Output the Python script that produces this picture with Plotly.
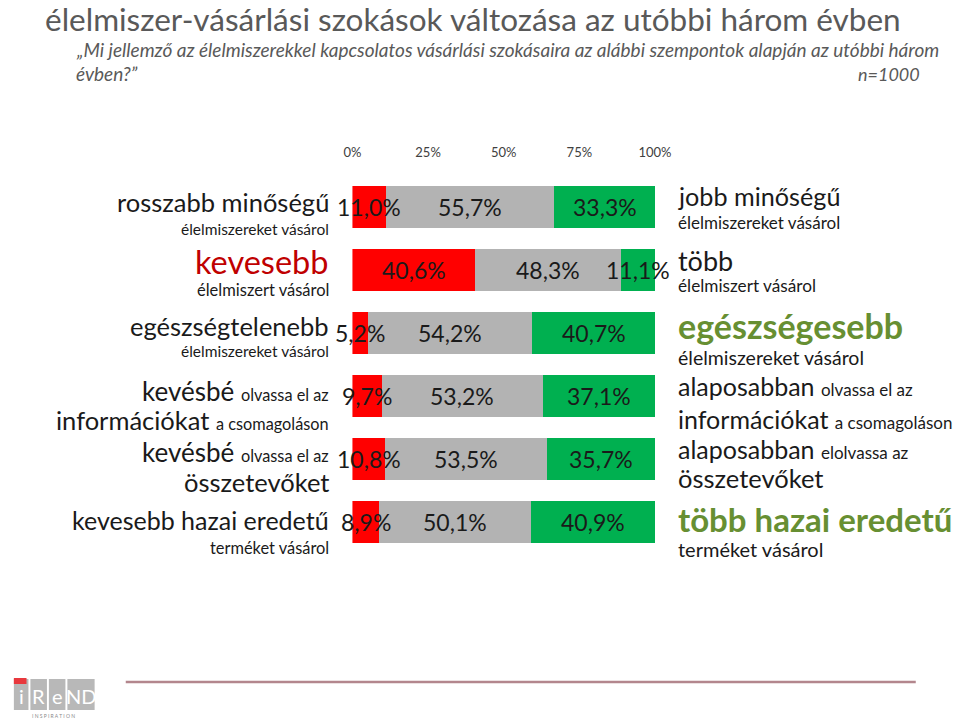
import plotly.graph_objects as go

# ---- data ----
categories = ["minőség", "mennyiség", "egészség", "információk", "összetevők", "hazai eredet"]
worse = [11.0, 40.6, 5.2, 9.7, 10.8, 8.9]
same = [55.7, 48.3, 54.2, 53.2, 53.5, 50.1]
better = [33.3, 11.1, 40.7, 37.1, 35.7, 40.9]
tick_vals = [0, 25, 50, 75, 100]
tick_text = ["0%", "25%", "50%", "75%", "100%"]

W, H = 960, 720
FONT = "Lato"
TXT = "#1a1a1a"
GREEN_T = "#678F32"
RED_T = "#C00000"

def px(x):
    return x / W

def py(y):
    return 1 - y / H

def fmt(v):
    return f"{v:.1f}".replace(".", ",") + "%"

fig = go.Figure()
for vals, col in [(worse, "#FF0000"), (same, "#B3B3B3"), (better, "#00B050")]:
    fig.add_trace(go.Bar(
        y=categories, x=vals, orientation="h", marker=dict(color=col, line=dict(width=0)),
        hoverinfo="skip", showlegend=False,
    ))

fig.update_layout(
    width=W, height=H, barmode="stack", bargap=1/3,
    margin=dict(l=0, r=0, t=0, b=0), paper_bgcolor="white", plot_bgcolor="white",
    xaxis=dict(domain=[px(353), px(664)], range=[0, 100], side="top", tickvals=tick_vals,
               ticktext=tick_text, showgrid=False, zeroline=False, showline=False, ticks="",
               tickfont=dict(family=FONT, size=13, color="#404040"), ticklabelstandoff=15,
               fixedrange=True),
    yaxis=dict(domain=[py(553.5), py(175.5)], autorange="reversed", showticklabels=False,
               showgrid=False, zeroline=False, showline=False, ticks="", fixedrange=True),
)

ann = []

# value labels centred on each segment (data coordinates)
for i, cat in enumerate(categories):
    start = 0.0
    for vals in (worse, same, better):
        v = vals[i]
        ann.append(dict(x=start + v / 2, y=cat, xref="x", yref="y", text=fmt(v), showarrow=False,
                        xanchor="center", yanchor="middle",
                        font=dict(family=FONT, size=23, color=TXT)))
        start += v

def A(x, y, text, anchor, size, color=TXT, bold=False, italic=False, family=FONT):
    ann.append(dict(x=px(x), y=py(y), xref="paper", yref="paper", text=text, showarrow=False,
                    xanchor=anchor, yanchor="middle", align=anchor,
                    font=dict(family=family, size=size, color=color,
                              weight="bold" if bold else "normal",
                              style="italic" if italic else "normal")))

def sm(t, s=16):
    return f"<span style='font-size:{s}px'>{t}</span>"

# title
A(35, 19, "élelmiszer-vásárlási szokások változása az utóbbi három évben", "left", 31.5, color="#595959")
A(67, 50, "„Mi jellemző az élelmiszerekkel kapcsolatos vásárlási szokásaira az alábbi szempontok alapján az utóbbi három",
  "left", 19, color="#595959", italic=True)
A(67, 74, "évben?”", "left", 19, color="#595959", italic=True)
A(938, 74, "n=1000", "right", 18, color="#595959", italic=True)

# left labels
L = 331
A(L, 202, "rosszabb minőségű", "right", 25.5)
A(L, 229, "élelmiszereket vásárol", "right", 15.5)
A(L, 261, "kevesebb", "right", 32.5, color=RED_T)
A(L, 290, "élelmiszert vásárol", "right", 16.5)
A(L, 326, "egészségtelenebb", "right", 25.5)
A(L, 351, "élelmiszereket vásárol", "right", 15.5)
A(L, 391, "kevésbé " + sm("olvassa el az", 16.3), "right", 26)
A(L, 420, "információkat " + sm("a csomagoláson", 16.3), "right", 25.5)
A(L, 452, "kevésbé " + sm("olvassa el az", 16.3), "right", 26)
A(L, 482, "összetevőket", "right", 25.5)
A(L, 520, "kevesebb hazai eredetű", "right", 25)
A(L, 547, "terméket vásárol", "right", 16.4)

# right labels
R = 686
A(R, 196, "jobb minőségű", "left", 25.2)
A(R, 222, "élelmiszereket vásárol", "left", 17)
A(R, 260, "több", "left", 27)
A(R, 286, "élelmiszert vásárol", "left", 17.2)
A(R, 326, "egészségesebb", "left", 34, color=GREEN_T, bold=True)
A(R, 357, "élelmiszereket vásárol", "left", 19.5)
A(R, 386, "alaposabban " + sm("olvassa el az", 17), "left", 25)
A(R, 419, "információkat " + sm("a csomagoláson", 17), "left", 25)
A(R, 449, "alaposabban " + sm("elolvassa az", 17), "left", 25)
A(R, 478, "összetevőket", "left", 25.5)
A(R, 519, "több hazai eredetű", "left", 33, color=GREEN_T, bold=True)
A(R, 549, "terméket vásárol", "left", 20)

# footer logo
shapes = [dict(type="line", xref="paper", yref="paper", x0=px(120), x1=px(932), y0=py(682), y1=py(682),
               line=dict(color="#B3868D", width=2.5))]
blocks = [(5, 20, "i"), (22, 39, "R"), (41, 58, "e"), (60, 88, "ND")]
for x0, x1, ch in blocks:
    shapes.append(dict(type="rect", xref="paper", yref="paper", x0=px(x0), x1=px(x1), y0=py(710), y1=py(679),
                       fillcolor="#B8B8B8", line=dict(width=0)))
    A((x0 + x1) / 2, 696, ch, "center", 20, color="white")
shapes.append(dict(type="rect", xref="paper", yref="paper", x0=px(5), x1=px(18), y0=py(684), y1=py(678),
                   fillcolor="#E8383D", line=dict(width=0)))
A(46, 716, "I N S P I R A T I O N", "center", 5, color="#8a8a8a")

fig.update_layout(annotations=ann, shapes=shapes)
fig.write_html("out.html")
